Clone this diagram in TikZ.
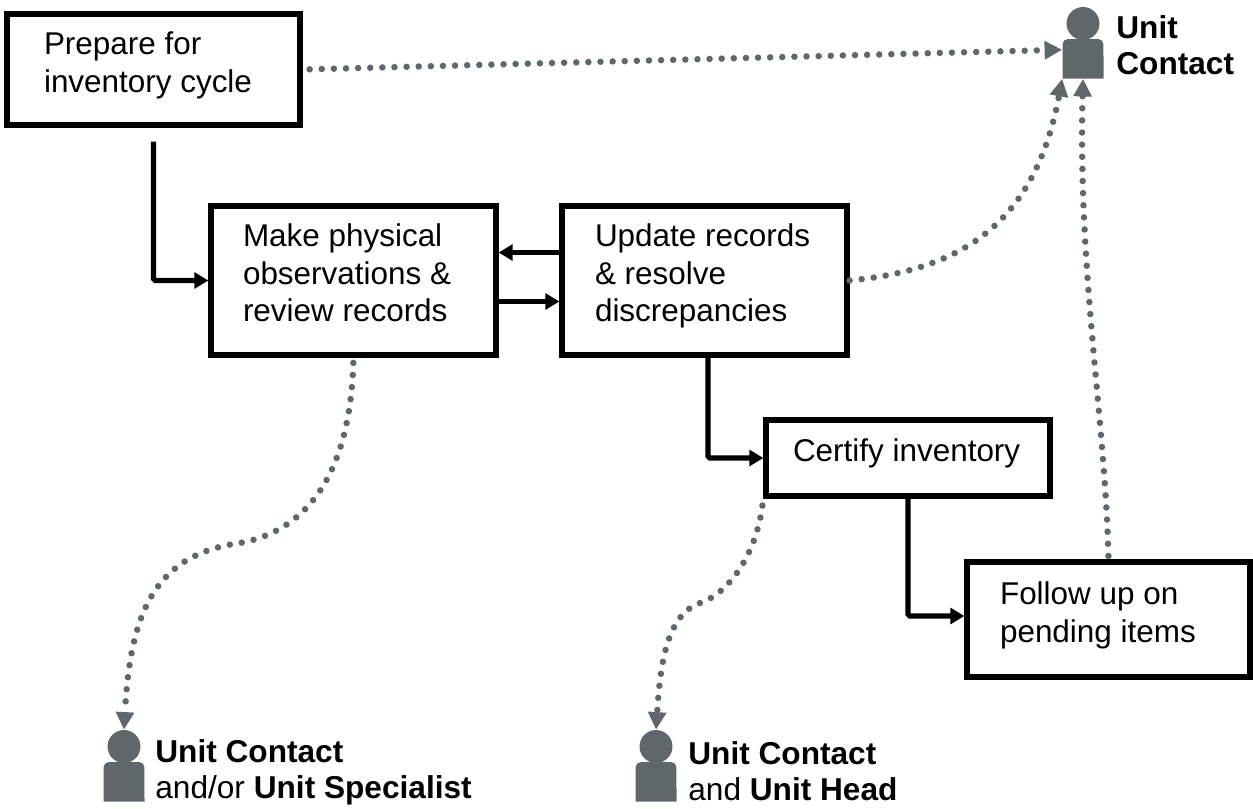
\documentclass[tikz,border=0pt]{standalone}
\usepackage{fontspec}
\setmainfont{Liberation Sans}
\usetikzlibrary{arrows.meta}
\definecolor{persongray}{HTML}{5F676A}
\tikzset{
  block/.style={draw,line width=3pt,align=flush left,inner ysep=0pt,inner xsep=.66cm},
  flow/.style={line width=3pt,-{Triangle[length=8pt,width=9pt]}},
  dotline/.style={persongray,line width=3.7pt,line cap=round,dash pattern=on 0pt off 6.9pt,-{Triangle[length=10pt,width=10pt,line cap=butt]}},
  label/.style={align=left,inner sep=0pt,anchor=west,font=\fontsize{18}{20.8}\selectfont},
}
% depth below the last line of a block, lifts its text
\newcommand{\lift}{\rule[-8.6pt]{0pt}{8.6pt}}
% head and body of one person, #1 name, #2 centre x, #3 top of the head
\newcommand{\person}[3]{
  \node[circle,fill=persongray,inner sep=0pt,minimum size=.66cm] (#1head) at (#2,#3+16.5) {};
  \fill[persongray] (#2-20.5,#3+71.5) -- (#2-20.5,#3+37.3) arc[start angle=180,end angle=90,radius=3pt] -- (#2+15.2,#3+32) arc[start angle=90,end angle=0,radius=3pt] -- (#2+20.5,#3+71.5) -- cycle;
  \node[inner sep=0pt,minimum width=.82cm,minimum height=.79cm] (#1body) at (#2,#3+51.75) {};
}
\begin{document}
\begin{tikzpicture}[x=0.02cm,y=-0.02cm,font=\fontsize{17.9}{21.3}\selectfont]
\useasboundingbox (0,0) rectangle (1253,808);
\node[block,inner xsep=.74cm,text width=4.38cm,minimum height=2.22cm] (prepare) at (153.5,69.5) {Prepare for\\inventory cycle\lift};
\node[block,inner xsep=.64cm,text width=4.42cm,minimum height=2.98cm] (observe) at (353.5,280.5) {Make physical\\observations \&\\review records\lift};
\node[block,inner xsep=.66cm,text width=4.38cm,minimum height=2.98cm] (update) at (704.5,280.5) {Update records\\\& resolve\\discrepancies\lift};
\node[block,inner xsep=.54cm,text width=4.6cm,minimum height=1.52cm] (certify) at (908,458) {Certify inventory\lift};
\node[block,inner xsep=.66cm,text width=4.34cm,minimum height=2.3cm] (followup) at (1108.5,619.5) {Follow up on\\pending items\lift};

\person{contact}{1083}{7}
\person{specialist}{124}{730}
\person{head}{656}{730}

\node[label] (contacttext) at (1116,45) {\textbf{Unit}\\\textbf{Contact}};
\node[label] (specialisttext) at (155,772.5) {\textbf{Unit Contact}\\and/or \textbf{Unit Specialist}};
\node[label] (headtext) at (688,771) {\textbf{Unit Contact}\\and \textbf{Unit Head}};

% process flow
\draw[flow,shorten <=8pt,rounded corners=1pt] (prepare.south) |- (observe.west);
\draw[flow] ([yshift=.56cm]update.west) -- ([yshift=.56cm]observe.east);
\draw[flow] ([yshift=-.42cm]observe.east) -- ([yshift=-.42cm]update.west);
\draw[flow,rounded corners=1pt] ([xshift=.07cm]update.south) |- (certify.west);
\draw[flow,rounded corners=1pt] (certify.south) |- ([yshift=.07cm]followup.west);

% reporting lines
\draw[dotline,shorten <=4pt] (prepare.east) -- ([yshift=.18cm]contactbody.west);
\draw[dotline] (update.east) .. controls (960,270) and (1035,225) .. (contactbody.south west);
\draw[dotline,shorten <=2pt] (followup.north) .. controls (1105,420) and (1078,270) .. (contactbody.south);
\draw[dotline,shorten <=3pt] (observe.south) .. controls (350,470) and (310,530) .. (240,543) .. controls (150,555) and (130,620) .. (specialisthead.north);
\draw[dotline,shorten <=4pt] (certify.south west) .. controls (755,560) and (725,595) .. (700,603) .. controls (665,615) and (660,670) .. (headhead.north);
\end{tikzpicture}
\end{document}
